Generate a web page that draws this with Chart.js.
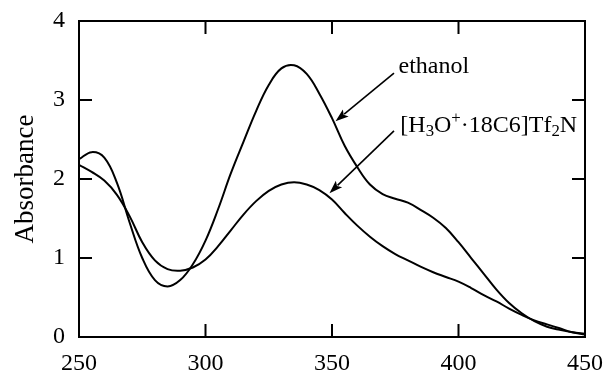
<!DOCTYPE html>
<html>
<head>
<meta charset="utf-8">
<script src="https://cdn.jsdelivr.net/npm/chart.js@4/dist/chart.umd.min.js"></script>
<style>
  html, body { margin: 0; padding: 0; background: #fff; }
  #wrap { width: 604px; height: 370px; }
</style>
</head>
<body>
<div id="wrap"><canvas id="spectrum" width="604" height="370"></canvas></div>
<script>
// UV-vis absorption spectra, 250-450 nm
const wavelengths = [250, 255, 260, 265, 270, 275, 280, 285, 290, 295, 300, 305, 310, 315, 320, 325, 330, 335, 340, 345, 350,
  355, 360, 365, 370, 375, 380, 385, 390, 395, 400, 405, 410, 415, 420, 425, 430, 435, 440, 445, 450];
const ethanolAbs = [2.25, 2.34, 2.27, 1.95, 1.45, 1.00, 0.72, 0.64, 0.72, 0.92, 1.22, 1.62, 2.07, 2.47, 2.86, 3.19, 3.40, 3.44, 3.33, 3.08, 2.77,
  2.42, 2.15, 1.93, 1.81, 1.75, 1.70, 1.61, 1.51, 1.38, 1.20, 1.00, 0.80, 0.60, 0.43, 0.30, 0.20, 0.13, 0.09, 0.06, 0.04];
const crownAbs = [2.18, 2.09, 1.98, 1.80, 1.53, 1.20, 0.97, 0.86, 0.84, 0.88, 0.98, 1.15, 1.35, 1.55, 1.72, 1.85, 1.93, 1.96, 1.93, 1.86, 1.74,
  1.57, 1.41, 1.27, 1.15, 1.05, 0.97, 0.89, 0.82, 0.76, 0.70, 0.62, 0.53, 0.45, 0.36, 0.28, 0.21, 0.16, 0.11, 0.06, 0.03];
const xTicks = [250, 300, 350, 400, 450];
const yTicks = [0, 1, 2, 3, 4];

// arrow annotations, in data units: [tailX, tailY, tipX, tipY]
const ethanolArrow = [374.5, 3.34, 351.4, 2.73];
const crownArrow = [374.5, 2.61, 349.0, 1.82];

const FONT = '"Liberation Serif", "Times New Roman", serif';

function toPoints(ys) {
  return wavelengths.map((x, i) => ({ x: x, y: ys[i] }));
}

// frame with inward ticks on all four sides
const framePlugin = {
  id: 'frame',
  afterDatasetsDraw(chart) {
    const { ctx, chartArea: a, scales } = chart;
    const len = 13;
    ctx.save();
    ctx.strokeStyle = '#000';
    ctx.lineWidth = 2;
    ctx.strokeRect(a.left, a.top, a.right - a.left, a.bottom - a.top);
    ctx.beginPath();
    xTicks.slice(1, -1).forEach(v => {
      const px = scales.x.getPixelForValue(v);
      ctx.moveTo(px, a.bottom); ctx.lineTo(px, a.bottom - len);
      ctx.moveTo(px, a.top); ctx.lineTo(px, a.top + len);
    });
    yTicks.slice(1, -1).forEach(v => {
      const py = scales.y.getPixelForValue(v);
      ctx.moveTo(a.left, py); ctx.lineTo(a.left + len, py);
      ctx.moveTo(a.right, py); ctx.lineTo(a.right - len, py);
    });
    ctx.stroke();
    ctx.restore();
  }
};

function drawArrow(ctx, sx, sy, ex, ey) {
  const ang = Math.atan2(ey - sy, ex - sx);
  const head = 14, spread = 0.33;
  ctx.beginPath();
  ctx.moveTo(sx, sy);
  ctx.lineTo(ex - Math.cos(ang) * head * 0.8, ey - Math.sin(ang) * head * 0.8);
  ctx.stroke();
  ctx.beginPath();
  ctx.moveTo(ex, ey);
  ctx.lineTo(ex - head * Math.cos(ang - spread), ey - head * Math.sin(ang - spread));
  ctx.lineTo(ex - head * 0.75 * Math.cos(ang), ey - head * 0.75 * Math.sin(ang));
  ctx.lineTo(ex - head * Math.cos(ang + spread), ey - head * Math.sin(ang + spread));
  ctx.closePath();
  ctx.fill();
}

// text run with sub/superscripts: [text, shift] where shift is 0, 'sub' or 'sup'
function drawRuns(ctx, runs, x, y, size) {
  runs.forEach(([t, shift]) => {
    const s = shift ? size * 0.7 : size;
    const dy = shift === 'sub' ? size * 0.2 : shift === 'sup' ? -size * 0.36 : 0;
    ctx.font = s + 'px ' + FONT;
    ctx.fillText(t, x, y + dy);
    x += ctx.measureText(t).width;
  });
}

const labelPlugin = {
  id: 'labels',
  afterDraw(chart) {
    const { ctx, scales: { x, y } } = chart;
    ctx.save();
    ctx.fillStyle = '#000';
    ctx.strokeStyle = '#000';
    ctx.lineWidth = 1.6;
    [ethanolArrow, crownArrow].forEach(a => {
      drawArrow(ctx, x.getPixelForValue(a[0]), y.getPixelForValue(a[1]),
        x.getPixelForValue(a[2]), y.getPixelForValue(a[3]));
    });
    ctx.textBaseline = 'alphabetic';
    ctx.textAlign = 'left';
    drawRuns(ctx, [['ethanol', 0]], x.getPixelForValue(376.3), y.getPixelForValue(3.34), 24);
    drawRuns(ctx, [['[H', 0], ['3', 'sub'], ['O', 0], ['+', 'sup'], ['\u00b718C6]Tf', 0], ['2', 'sub'], ['N', 0]],
      x.getPixelForValue(377.0), y.getPixelForValue(2.60), 24);
    ctx.restore();
  }
};

const lineStyle = {
  borderColor: '#000',
  borderWidth: 2,
  pointRadius: 0,
  fill: false,
  tension: 0.4
};

new Chart(document.getElementById('spectrum'), {
  type: 'line',
  data: {
    datasets: [
      Object.assign({ label: 'ethanol', data: toPoints(ethanolAbs) }, lineStyle),
      Object.assign({ label: '[H3O+·18C6]Tf2N', data: toPoints(crownAbs) }, lineStyle)
    ]
  },
  options: {
    responsive: false,
    animation: false,
    devicePixelRatio: 1,
    layout: { padding: { top: 21, right: 19, left: 0, bottom: 0 } },
    plugins: {
      legend: { display: false },
      tooltip: { enabled: false }
    },
    scales: {
      x: {
        type: 'linear',
        min: 250,
        max: 450,
        afterBuildTicks: s => { s.ticks = xTicks.map(v => ({ value: v })); },
        afterFit: s => { s.height = 33; s.paddingLeft = 0; s.paddingRight = 0; },
        grid: { display: false },
        border: { display: false },
        ticks: { color: '#000', padding: 4, maxRotation: 0, font: { family: FONT, size: 24 } }
      },
      y: {
        type: 'linear',
        min: 0,
        max: 4,
        afterBuildTicks: s => { s.ticks = yTicks.map(v => ({ value: v })); },
        afterFit: s => { s.width = 79; s.paddingTop = 0; s.paddingBottom = 0; },
        grid: { display: false },
        border: { display: false },
        title: { display: true, text: 'Absorbance', color: '#000', padding: { top: 10, bottom: 0 }, font: { family: FONT, size: 27 } },
        ticks: { color: '#000', padding: 6, font: { family: FONT, size: 24 } }
      }
    }
  },
  plugins: [framePlugin, labelPlugin]
});
</script>
</body>
</html>
